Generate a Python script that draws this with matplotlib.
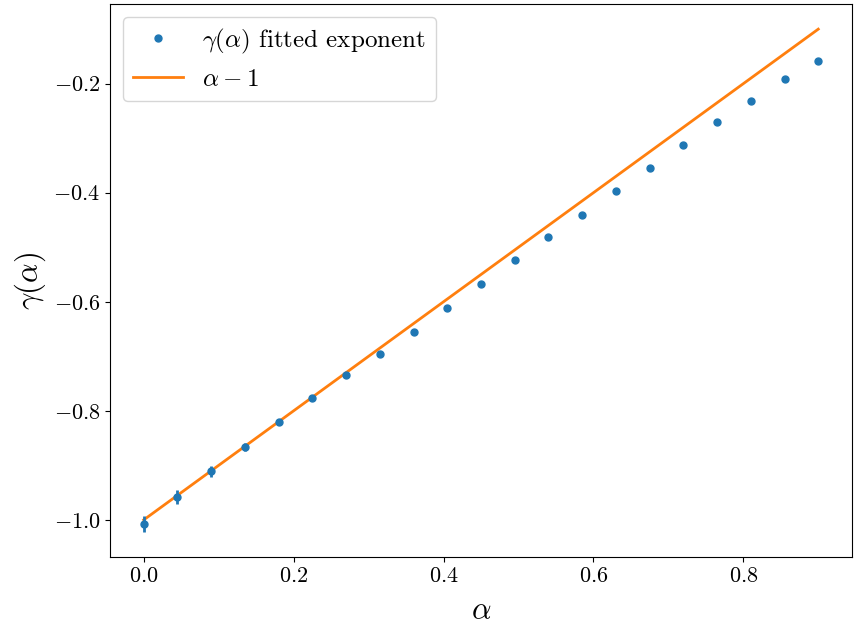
import numpy as np
import matplotlib
matplotlib.use('Agg')
import matplotlib.pyplot as plt

plt.rcParams['font.family'] = 'serif'
plt.rcParams['font.serif'] = ['cmr10', 'DejaVu Serif']
plt.rcParams['mathtext.fontset'] = 'cm'
plt.rcParams['axes.formatter.use_mathtext'] = True

##################
# Data
##################

alpha = [0.0, 0.045, 0.09, 0.135, 0.18, 0.225, 0.27, 0.315, 0.36, 0.405, 0.45,
         0.495, 0.54, 0.585, 0.63, 0.675, 0.72, 0.765, 0.81, 0.855, 0.9]
gamma = [-1.007, -0.958, -0.911, -0.866, -0.821, -0.776, -0.735, -0.695, -0.656,
         -0.611, -0.567, -0.524, -0.482, -0.440, -0.397, -0.355, -0.313, -0.271,
         -0.231, -0.192, -0.158]
gamma_err = [0.015, 0.012, 0.010, 0.007, 0.005, 0.003, 0.003, 0.003, 0.002,
             0.002, 0.002, 0.002, 0.002, 0.002, 0.002, 0.002, 0.002, 0.002,
             0.002, 0.002, 0.002]

####################
# Figure
####################

fig = plt.figure(figsize=(8.58, 6.3), dpi=100)
ax = fig.add_axes([110/858, 73/630, 742/858, 553/630])

a = np.array(alpha)
ax.errorbar(alpha, gamma, yerr=gamma_err, fmt='none', ecolor='C0', elinewidth=2, zorder=3)
ax.plot(alpha, gamma, 'o', color='C0', ms=5, zorder=3,
        label=r'$\gamma(\alpha)$ fitted exponent')
ax.plot(alpha, a - 1, color='C1', lw=2, zorder=2, label=r'$\alpha-1$')

ax.set_xlabel(r'$\alpha$', fontsize=22, labelpad=8)
ax.set_ylabel(r'$\gamma(\alpha)$', fontsize=22)
ax.tick_params(labelsize=16)

ax.legend(loc='upper left', fontsize=18)

fig.savefig('out.png', dpi=100)
